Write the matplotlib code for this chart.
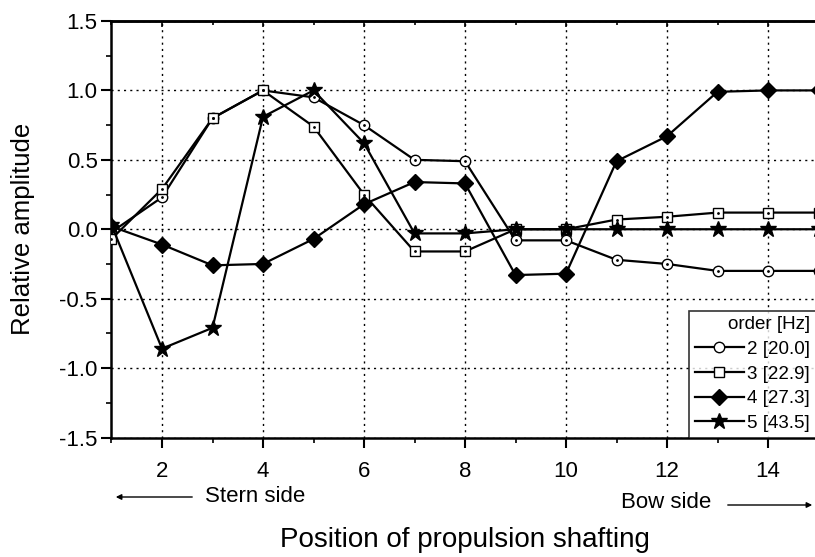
import matplotlib
matplotlib.use("Agg")
import matplotlib.pyplot as plt
from matplotlib.ticker import MultipleLocator

plt.rcParams['font.family'] = ['Liberation Sans', 'DejaVu Sans']

positions = list(range(1, 16))
order2 = [-0.02, 0.23, 0.80, 1.00, 0.95, 0.75, 0.50, 0.49, -0.08, -0.08, -0.22, -0.25, -0.30, -0.30, -0.30]
order3 = [-0.07, 0.29, 0.80, 1.00, 0.74, 0.25, -0.16, -0.16, 0.00, 0.00, 0.07, 0.09, 0.12, 0.12, 0.12]
order4 = [0.02, -0.11, -0.26, -0.25, -0.07, 0.18, 0.34, 0.33, -0.33, -0.32, 0.49, 0.67, 0.99, 1.00, 1.00]
order5 = [0.03, -0.86, -0.71, 0.81, 1.00, 0.62, -0.03, -0.03, 0.00, 0.00, 0.00, 0.00, 0.00, 0.00, 0.00]
labels = ["2 [20.0]", "3 [22.9]", "4 [27.3]", "5 [43.5]"]
xticks = [2, 4, 6, 8, 10, 12, 14]
yticks = [-1.5, -1.0, -0.5, 0.0, 0.5, 1.0, 1.5]

fig = plt.figure(figsize=(8.15, 5.57), dpi=100)
W, H = 815, 557
x0, x1 = 111.5, 818.5
y_top, y_bot = 21, 437.5
ax = fig.add_axes([x0 / W, 1 - y_bot / H, (x1 - x0) / W, (y_bot - y_top) / H])

lw = 1.6
ax.plot(positions, order2, '-', color='black', lw=lw, marker='o', ms=7.5, mfc='white', mec='black', mew=1.0, label=labels[0], zorder=3)
ax.plot(positions, order2, ' ', marker='.', ms=2, color='black', zorder=4)
ax.plot(positions, order3, '-', color='black', lw=lw, marker='s', ms=7, mfc='white', mec='black', mew=1.0, label=labels[1], zorder=3)
ax.plot(positions, order3, ' ', marker='.', ms=2, color='black', zorder=4)
ax.plot(positions, order4, '-', color='black', lw=lw, marker='D', ms=8, mfc='black', mec='black', label=labels[2], zorder=3)
ax.plot(positions, order5, '-', color='black', lw=lw, marker='*', ms=12, mfc='black', mec='black', label=labels[3], zorder=3)

ax.set_xlim(1, 15)
ax.set_ylim(-1.5, 1.5)
ax.xaxis.set_minor_locator(MultipleLocator(1))
ax.yaxis.set_minor_locator(MultipleLocator(0.25))
ax.set_xticks(xticks)
ax.set_yticks(yticks)
ax.set_yticklabels([f"{v:.1f}" for v in yticks])
ax.grid(True, which='major', linestyle=(0, (1.5, 3)), color='black', lw=1.0)

ax.tick_params(axis='both', which='major', labelsize=16, direction='out', length=7, width=1.5)
ax.tick_params(axis='both', which='minor', direction='out', length=3.5, width=1.2)
ax.tick_params(axis='x', which='major', pad=10)
ax.tick_params(axis='y', which='major', pad=3)
ax.tick_params(axis='both', which='both', right=False, top=False)
for sp in ax.spines.values():
    sp.set_linewidth(1.8)
ax.spines['right'].set_visible(False)

# inward ticks along the top edge
top = ax.secondary_xaxis('top')
top.set_xticks(xticks)
top.xaxis.set_minor_locator(MultipleLocator(1))
top.tick_params(which='both', direction='in', labeltop=False, width=1.2)
top.tick_params(which='major', length=4)
top.tick_params(which='minor', length=3)
top.spines['top'].set_linewidth(1.8)

ax.set_ylabel("Relative amplitude", fontsize=18.5, va='center')
ax.yaxis.set_label_coords((23 - x0) / (x1 - x0), 0.5)
ax.set_xlabel("Position of propulsion shafting", fontsize=20, va='center')
ax.xaxis.set_label_coords(0.5, -(540 - y_bot) / (y_bot - y_top))

leg = ax.legend(title="order [Hz]", loc='lower right', bbox_to_anchor=(0.9965, 0.0),
                fontsize=13.5, title_fontsize=13.5, frameon=True, fancybox=False,
                edgecolor='black', handlelength=2.6, handletextpad=0.2,
                borderpad=0.3, labelspacing=0.4, borderaxespad=0)
leg.get_frame().set_linewidth(1.2)
leg._legend_box.align = "right"

# direction annotations under the axis
fig.text(205 / W, 1 - 497 / H, "Stern side", fontsize=16, va='center', ha='left')
fig.text(711 / W, 1 - 503 / H, "Bow side", fontsize=16, va='center', ha='right')
ax.annotate("", xy=(113 / W, 1 - 497 / H), xytext=(195 / W, 1 - 497 / H), xycoords='figure fraction',
            arrowprops=dict(arrowstyle='-|>', color='black', lw=1, mutation_scale=8))
ax.annotate("", xy=(815 / W, 1 - 505 / H), xytext=(725 / W, 1 - 505 / H), xycoords='figure fraction',
            arrowprops=dict(arrowstyle='-|>', color='black', lw=1, mutation_scale=8))

fig.savefig("out.png", dpi=100)
